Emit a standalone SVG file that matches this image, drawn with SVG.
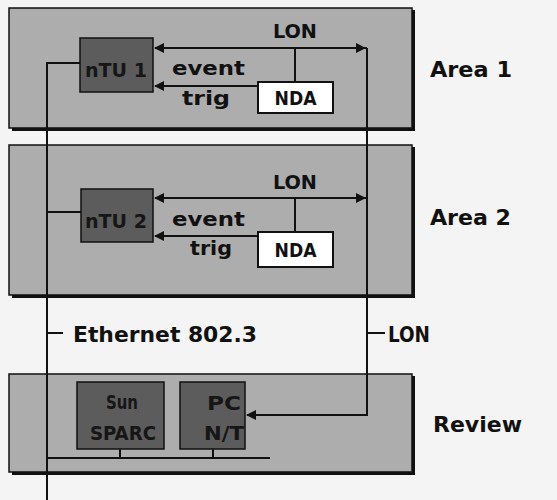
<svg xmlns="http://www.w3.org/2000/svg" width="557" height="500" viewBox="0 0 557 500">
<defs>
<style>
.bg{fill:#f4f4f4}
.area{fill:#adadad;stroke:#111;stroke-width:1.5}
.shadow{fill:#111}
.dark{fill:#5c5c5c;stroke:#111;stroke-width:1.5}
.nda{fill:#fff;stroke:#111;stroke-width:2}
.ln{stroke:#111;stroke-width:2;fill:none}
text{font-family:"DejaVu Sans Condensed","DejaVu Sans",sans-serif;font-weight:bold;fill:#111;font-stretch:condensed}
.lbl{font-size:19px}
.big{font-size:21px}
.in{font-size:19px;text-anchor:middle;fill:#161616}
</style>
<marker id="ah" viewBox="0 0 10 10" refX="9" refY="5" markerWidth="5" markerHeight="5" orient="auto" markerUnits="strokeWidth">
<path d="M0,0 L10,5 L0,10 z" fill="#111"/>
</marker>
</defs>
<rect class="bg" x="0" y="0" width="557" height="500"/>

<g id="area1">
<rect class="shadow" x="12" y="10" width="403" height="121"/>
<rect class="area" x="9" y="8" width="403" height="120"/>
<text class="big" x="430" y="77" textLength="82" lengthAdjust="spacingAndGlyphs">Area 1</text>
</g>
<g id="area2">
<rect class="shadow" x="12" y="147" width="403" height="151"/>
<rect class="area" x="9" y="145" width="403" height="150"/>
<text class="big" x="430" y="225" textLength="81" lengthAdjust="spacingAndGlyphs">Area 2</text>
</g>
<g id="review">
<rect class="shadow" x="12" y="376" width="403" height="99"/>
<rect class="area" x="9" y="374" width="403" height="98"/>
<text class="big" x="433" y="432" textLength="89" lengthAdjust="spacingAndGlyphs">Review</text>
</g>

<g id="ntu1">
<rect class="dark" x="80" y="38" width="73" height="54"/>
<text class="in" x="116" y="77" textLength="62" lengthAdjust="spacingAndGlyphs">nTU 1</text>
</g>
<g id="nda1">
<rect class="nda" x="258" y="82" width="75" height="31"/>
<text class="lbl" x="295.5" y="105" text-anchor="middle" textLength="42" lengthAdjust="spacingAndGlyphs">NDA</text>
</g>
<g id="ntu2">
<rect class="dark" x="81" y="189" width="72" height="53"/>
<text class="in" x="116" y="228" textLength="62" lengthAdjust="spacingAndGlyphs">nTU 2</text>
</g>
<g id="nda2">
<rect class="nda" x="258" y="232" width="75" height="35"/>
<text class="lbl" x="295.5" y="257" text-anchor="middle" textLength="42" lengthAdjust="spacingAndGlyphs">NDA</text>
</g>
<g id="sun">
<rect class="dark" x="77" y="382" width="87" height="67"/>
<text class="in" x="122" y="409" textLength="32" lengthAdjust="spacingAndGlyphs">Sun</text>
<text class="in" x="123" y="440" textLength="66" lengthAdjust="spacingAndGlyphs">SPARC</text>
</g>
<g id="pc">
<rect class="dark" x="180" y="382" width="65" height="67"/>
<text class="in" x="224" y="410" textLength="34" lengthAdjust="spacingAndGlyphs">PC</text>
<text class="in" x="224" y="440" textLength="40" lengthAdjust="spacingAndGlyphs">N/T</text>
</g>

<g id="connectors">
<line class="ln" x1="367" y1="48" x2="155" y2="48" marker-end="url(#ah)"/>
<line class="ln" x1="200" y1="48" x2="365" y2="48" marker-end="url(#ah)"/>
<line class="ln" x1="295" y1="48" x2="295" y2="82"/>
<line class="ln" x1="258" y1="86" x2="155" y2="86" marker-end="url(#ah)"/>
<line class="ln" x1="367" y1="198" x2="155" y2="198" marker-end="url(#ah)"/>
<line class="ln" x1="200" y1="198" x2="365" y2="198" marker-end="url(#ah)"/>
<line class="ln" x1="295" y1="198" x2="295" y2="232"/>
<line class="ln" x1="258" y1="236" x2="155" y2="236" marker-end="url(#ah)"/>
<polyline class="ln" points="80,63 47,63 47,500"/>
<line class="ln" x1="47" y1="212" x2="81" y2="212"/>
<line class="ln" x1="47" y1="333" x2="63" y2="333"/>
<line class="ln" x1="47" y1="458" x2="270" y2="458"/>
<line class="ln" x1="120" y1="449" x2="120" y2="458"/>
<line class="ln" x1="213" y1="449" x2="213" y2="458"/>
<polyline class="ln" points="367,48 367,415 247,415" marker-end="url(#ah)"/>
<line class="ln" x1="367" y1="333" x2="385" y2="333"/>
</g>

<g id="labels">
<text class="lbl" x="273" y="38" textLength="44" lengthAdjust="spacingAndGlyphs">LON</text>
<text class="lbl" x="172" y="75" textLength="73" lengthAdjust="spacingAndGlyphs">event</text>
<text class="lbl" x="182" y="105" textLength="48" lengthAdjust="spacingAndGlyphs">trig</text>
<text class="lbl" x="273" y="189" textLength="44" lengthAdjust="spacingAndGlyphs">LON</text>
<text class="lbl" x="172" y="226" textLength="73" lengthAdjust="spacingAndGlyphs">event</text>
<text class="lbl" x="190" y="255" textLength="42" lengthAdjust="spacingAndGlyphs">trig</text>
<text class="big" x="73" y="342" textLength="184" lengthAdjust="spacingAndGlyphs">Ethernet 802.3</text>
<text class="big" x="388" y="342" textLength="42" lengthAdjust="spacingAndGlyphs">LON</text>
</g>
</svg>
